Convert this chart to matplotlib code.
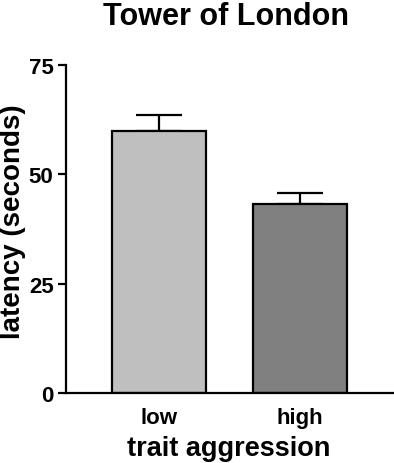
import matplotlib
matplotlib.use("Agg")
import matplotlib.pyplot as plt

categories = ["low", "high"]
means = [60.0, 43.2]
errors = [3.6, 2.5]
colors = ["#bfbfbf", "#808080"]
yticks = [0, 25, 50, 75]

plt.rcParams['font.family'] = ['Liberation Sans', 'DejaVu Sans']
plt.rcParams['font.weight'] = 'bold'

fig = plt.figure(figsize=(3.94, 4.64), dpi=100)
ax = fig.add_axes([66/394, 70/464, 1 - 66/394, 328/464])

x = list(range(len(categories)))
ax.bar(x, means, width=0.667, color=colors, edgecolor='black', linewidth=1.6, zorder=2)
ax.errorbar(x, means, yerr=[[0]*len(errors), errors], fmt='none', ecolor='black',
            elinewidth=1.6, capsize=16.5, capthick=1.6, zorder=1)

ax.set_xlim(-0.66, 1.667)
ax.set_ylim(0, 75)
ax.set_yticks(yticks)
ax.set_yticklabels([str(t) for t in yticks], fontsize=16, fontweight='bold')
ax.set_xticks(x)
ax.set_xticklabels(categories, fontsize=16, fontweight='bold')
ax.tick_params(axis='x', length=0, pad=10)
ax.tick_params(axis='y', length=6, width=1.6, pad=3)

for s in ['top', 'right']:
    ax.spines[s].set_visible(False)
for s in ['left', 'bottom']:
    ax.spines[s].set_linewidth(1.6)

fig.text(226/394, 1 - 25/464, "Tower of London", ha='center', va='baseline',
         fontsize=22, fontweight='bold')
fig.text(229/394, 1 - 449/464, "trait aggression", ha='center', va='center',
         fontsize=19.5, fontweight='bold')
fig.text(13/394, 1 - 222/464, "latency (seconds)", ha='center', va='center',
         rotation=90, fontsize=20, fontweight='bold')

fig.savefig("out.png", dpi=100)
